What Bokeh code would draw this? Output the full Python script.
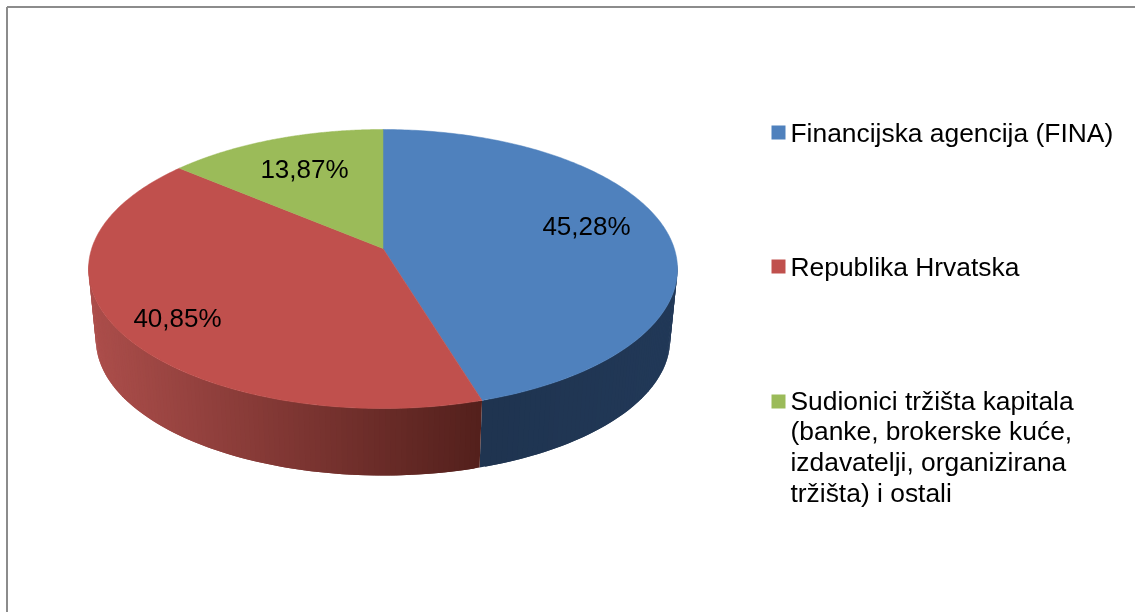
import numpy as np
from bokeh.plotting import figure
from bokeh.embed import file_html
from bokeh.resources import INLINE
from bokeh.core.properties import value

# --- chart data ---
shares = [45.28, 40.85, 13.87]
share_labels = ["45,28%", "40,85%", "13,87%"]
categories = [
    ["Financijska agencija (FINA)"],
    ["Republika Hrvatska"],
    ["Sudionici tržišta kapitala", "(banke, brokerske kuće,", "izdavatelji, organizirana", "tržišta) i ostali"],
]
top_colors = ["#4F81BD", "#C0504D", "#9BBB59"]
side_left = ["#1F3450", "#AC4E4B", "#9BBB59"]
side_right = ["#223958", "#53201C", "#9BBB59"]

# --- layout, in page pixels ---
W, H = 1135, 612
APEX_X, APEX_Y = 382.5, 248.0
A, B, K = 291.3, 136.5, -0.147   # perspective projection of the tilted disc
BASE_Y, BASE_SCALE = 319.0, 0.975
FONT = value("Liberation Sans")


def project(theta):
    """Clockwise angle from the top of the disc -> offsets from the apex."""
    u, v = np.sin(theta), -np.cos(theta)
    d = 1 + K * v
    return A * u / d, B * v / d


def hex_rgb(c):
    return np.array([int(c[i:i + 2], 16) for i in (1, 3, 5)], float)


p = figure(width=W, height=H, x_range=(0, W), y_range=(H, 0),
           output_backend="svg", toolbar_location=None,
           min_border=0, outline_line_color=None, background_fill_color="white",
           styles={"position": "fixed", "left": "0px", "top": "0px"})
p.axis.visible = False
p.grid.visible = False

# outer chart frame: only its left and top edges fall inside the picture
p.line([6.5, 6.5], [H, 6.5], line_color="#8C8C8C", line_width=2)
p.line([6.5, W], [6.5, 6.5], line_color="#8C8C8C", line_width=2)

edges = np.concatenate([[0], np.cumsum(shares)]) / sum(shares) * 2 * np.pi

# side wall, as overlapping thin strips shaded by screen position
for i in range(len(shares)):
    th = np.linspace(edges[i], edges[i + 1], 160)
    X, Y = project(th)
    xt, yt = APEX_X + X, APEX_Y + Y
    xb, yb = APEX_X + X * BASE_SCALE, BASE_Y + Y * BASE_SCALE
    c0, c1 = hex_rgb(side_left[i]), hex_rgb(side_right[i])
    xs, ys, cols = [], [], []
    for j in range(len(th) - 2):
        if yt[j] < APEX_Y + 14 or yt[j + 2] < APEX_Y + 14:
            continue
        xs.append([xt[j], xt[j + 2], xb[j + 2], xb[j]])
        ys.append([yt[j], yt[j + 2], yb[j + 2], yb[j]])
        f = np.clip((xt[j + 1] - 90) / (481 - 90), 0, 1) if i == 1 else \
            np.clip((xt[j + 1] - 481) / (677 - 481), 0, 1)
        cols.append("#%02x%02x%02x" % tuple(int(q) for q in c0 + (c1 - c0) * f))
    if xs:
        p.patches(xs, ys, fill_color=cols, line_color=None)

# top surface
for i in range(len(shares)):
    th = np.linspace(edges[i], edges[i + 1], 200)
    X, Y = project(th)
    p.patch(np.r_[APEX_X, APEX_X + X], np.r_[APEX_Y, APEX_Y + Y],
            fill_color=top_colors[i], line_color=top_colors[i], line_width=0.5)

# value labels
label_x = [586, 177, 304]
label_y = [225, 317, 168]
p.text(label_x, label_y, text=share_labels, text_font=FONT, text_font_size="26px",
       text_color="black", text_align="center", text_baseline="alphabetic")

# legend
swatch_y = [132, 266, 401]
line_y = [[132], [266], [400, 430.7, 461.4, 492]]
p.rect([778] * 3, swatch_y, width=14, height=14, fill_color=top_colors, line_color=None)
for lines, ys_ in zip(categories, line_y):
    p.text([790] * len(lines), ys_, text=lines, text_font=FONT, text_font_size="26.4px",
           text_color="black", text_align="left", text_baseline="alphabetic")

open("out.html", "w").write(file_html(p, INLINE))
